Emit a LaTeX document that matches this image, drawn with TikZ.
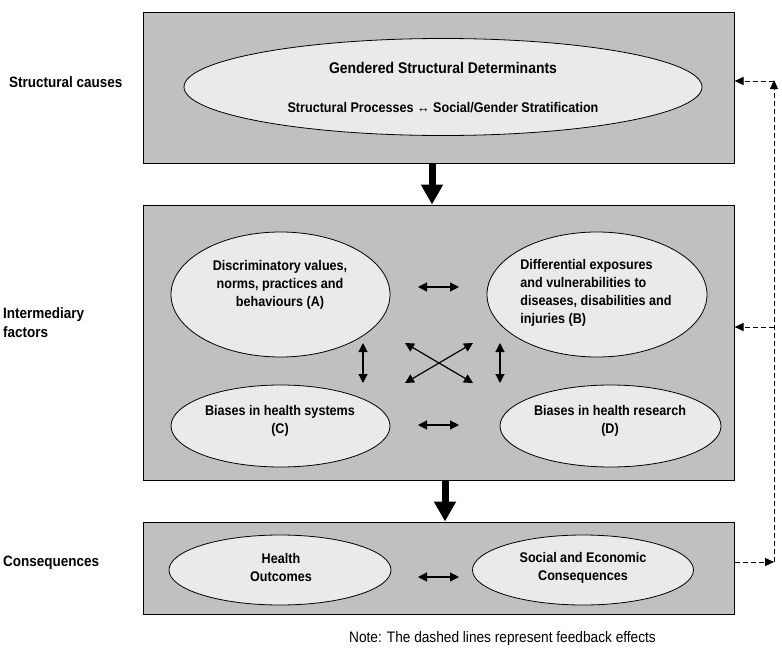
\documentclass[tikz,border=0pt]{standalone}
\usepackage{fontspec}
\setmainfont[FakeStretch=0.9]{Liberation Sans}
\usetikzlibrary{arrows.meta}
\usetikzlibrary{shapes.geometric, positioning}

\definecolor{panelgray}{HTML}{C0C0C0}
\definecolor{ovalgray}{HTML}{EAEAEA}

\begin{document}
\begin{tikzpicture}[x=1pt, y=-1pt,
    every node/.style={font=\bfseries\fontsize{14}{18}\selectfont},
    panel/.style={draw, line width=1pt, fill=panelgray, minimum width=591pt, inner sep=0pt},
    oval/.style={ellipse, draw, line width=0.8pt, fill=ovalgray, inner sep=0pt},
    sidelabel/.style={anchor=west, align=left, inner sep=0pt, font=\bfseries\fontsize{15}{19}\selectfont},
    bigarrow/.style={-{Triangle[width=21pt,length=20pt]}, line width=7pt},
    both/.style={{Triangle[width=9pt,length=9pt]}-{Triangle[width=9pt,length=9pt]}, line width=1.2pt},
    feedback/.style={-{Triangle[width=8pt,length=9pt]}, line width=0.9pt, dash pattern=on 5pt off 3pt}]

      \useasboundingbox (0,0) rectangle (782,653);

      % Boxes
      \node[panel, minimum height=151pt] (causes) at (438.5,87.5) {};
      \node[panel, minimum height=275pt] (factors) at (438.5,342.5) {};
      \node[panel, minimum height=92pt] (conseq) at (438.5,568) {};

      % Labels on the left
      \node[sidelabel] (lcauses) at (9,82) {Structural causes};
      \node[sidelabel] (lfactors) at (3,322.5) {Intermediary\\factors};
      \node[sidelabel] (lconseq) at (3,563) {Consequences};

      % Determinants
      \node[oval, minimum width=518pt, minimum height=97pt] (gsd) at (443,87) {};
      \node[above=19pt of gsd.center, anchor=center, font=\bfseries\fontsize{15.5}{18}\selectfont] (gsdtitle) {Gendered Structural Determinants};
      \node[below=21pt of gsd.center, anchor=center] (gsdsub) {Structural Processes ↔ Social/Gender Stratification};

      % Intermediary factors
      \node[oval, minimum width=219pt, minimum height=125pt] (A) at (280.5,294.5) {};
      \node[oval, minimum width=220pt, minimum height=125pt] (B) at (597,294.5) {};
      \node[oval, minimum width=219pt, minimum height=82pt] (C) at (280.5,426) {};
      \node[oval, minimum width=221pt, minimum height=82pt] (D) at (610.5,426) {};
      \node[align=center] (Atext) at (280,284.5) {Discriminatory values,\\norms, practices and\\behaviours (A)};
      \node[align=left] (Btext) at (596,293) {Differential exposures\\and vulnerabilities to\\diseases, disabilities and\\injuries (B)};
      \node[align=center] (Ctext) at (280,421) {Biases in health systems\\(C)};
      \node[align=center] (Dtext) at (610,421) {Biases in health research\\(D)};

      % Consequences
      \node[oval, minimum width=222pt, minimum height=70pt] (health) at (280,570) {};
      \node[oval, minimum width=221pt, minimum height=70pt] (social) at (583,570) {};
      \node[align=center] (htext) at (281,567.5) {Health\\Outcomes};
      \node[align=center] (stext) at (583,567.5) {Social and Economic\\Consequences};

      % Links between the factors
      \coordinate (ab1) at (418,287);   \coordinate (ab2) at (459,287);
      \coordinate (cd1) at (418,425);   \coordinate (cd2) at (459,425);
      \coordinate (ac1) at (363,343);   \coordinate (ac2) at (363,383);
      \coordinate (bd1) at (500,343);   \coordinate (bd2) at (500,383);
      \coordinate (x1) at (405,343);    \coordinate (x2) at (473,383);
      \coordinate (x3) at (405,383);    \coordinate (x4) at (473,343);
      \coordinate (hs1) at (418,577);   \coordinate (hs2) at (459,577);
      \draw[both] (ab1) -- (ab2);
      \draw[both] (cd1) -- (cd2);
      \draw[both] (ac1) -- (ac2);
      \draw[both] (bd1) -- (bd2);
      \draw[both] (x1) -- (x2);
      \draw[both] (x3) -- (x4);
      \draw[both] (hs1) -- (hs2);

      % Main flow
      \draw[bigarrow] (causes.south -| 432,0) -- (factors.north -| 432,0);
      \draw[bigarrow] (factors.south -| 445,0) -- (conseq.north -| 445,0);

      % Feedback effects
      \coordinate (fbbot) at (774,562);
      \coordinate (fbtop) at (774,80);
      \coordinate (fbmid) at (774,327);
      \draw[feedback] (conseq.east |- fbbot) -- (fbbot);
      \draw[feedback] (fbbot) -- (fbtop);
      \draw[feedback] ([yshift=-1pt]fbtop) -- ([yshift=-1pt]fbtop -| causes.east);
      \draw[feedback] (fbmid) -- (fbmid -| factors.east);

      % Note
      \node[font=\fontsize{15.2}{18}\selectfont] (note) at (502.5,639) {Note: The dashed lines represent feedback effects};
\end{tikzpicture}
\end{document}
